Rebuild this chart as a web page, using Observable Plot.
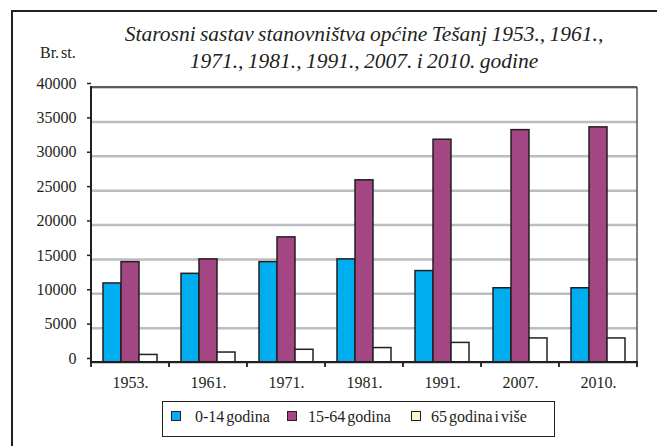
<!DOCTYPE html>
<html>
<head>
<meta charset="utf-8">
<script src="https://cdn.jsdelivr.net/npm/d3@7"></script>
<script src="https://cdn.jsdelivr.net/npm/@observablehq/plot@0.6"></script>
<style>
  html, body { margin: 0; padding: 0; background: #fff; overflow: hidden; }
  #wrap { position: relative; width: 657px; height: 446px; overflow: hidden; font-family: "Liberation Serif", "Times New Roman", serif; color: #231f20; }
  #frame { position: absolute; left: 11px; top: 10px; width: 700px; height: 500px; border-left: 2.5px solid #231f20; border-top: 2.5px solid #231f20; box-sizing: border-box; }
  #chart { position: absolute; left: 0; top: 0; }
  .title { position: absolute; left: 0; width: 728px; text-align: center; font-style: italic; font-size: 21.5px; line-height: 24px; white-space: nowrap; word-spacing: -1px; font-family: "Liberation Serif", "Times New Roman", serif; }
  #unit { position: absolute; left: 40px; top: 44px; font-size: 16px; word-spacing: -2px; }
  #legend { position: absolute; left: 162px; top: 401px; width: 393px; height: 36px; border: 1.5px solid #231f20; box-sizing: border-box; }
  .sw { position: absolute; top: 9px; width: 10px; height: 10px; border: 1.2px solid #231f20; box-sizing: border-box; }
  .lt { position: absolute; top: 6px; font-size: 16px; line-height: 18px; white-space: nowrap; word-spacing: -2px; }
</style>
</head>
<body>
<div id="wrap">
  <div id="frame"></div>
  <div id="chart"></div>
  <div class="title" style="top:22px">Starosni sastav stanovništva općine Tešanj 1953., 1961.,</div>
  <div class="title" style="top:49px">1971., 1981., 1991., 2007. i 2010. godine</div>
  <div id="unit">Br. st.</div>
  <div id="legend"></div>
</div>
<script>
const years = ["1953.", "1961.", "1971.", "1981.", "1991.", "2007.", "2010."];
const series = ["0-14 godina", "15-64 godina", "65 godina i više"];
const young = [11500, 12900, 14600, 15000, 13300, 10800, 10800];
const working = [14600, 15000, 18200, 26500, 32400, 33800, 34200];
const old = [1100, 1450, 1850, 2100, 2850, 3500, 3500];
const yTicks = [0, 5000, 10000, 15000, 20000, 25000, 30000, 35000, 40000];
const barColors = ["#00aeef", "#a44684", "#ffffff"];
const legendColors = ["#00aeef", "#a44684", "#fff6cf"];

const seriesValues = [young, working, old];
const table = years.flatMap((yr, i) => series.map((s, j) => ({year: yr, series: s, value: seriesValues[j][i]})));

const chart = Plot.plot({
  width: 657,
  height: 446,
  marginLeft: 90,
  marginRight: 19,
  marginTop: 87,
  marginBottom: 84,
  style: {fontFamily: "'Liberation Serif', 'Times New Roman', serif", fontSize: "16px", color: "#231f20", background: "transparent"},
  fx: {domain: years, paddingInner: 0, paddingOuter: 0, label: null, axis: "bottom", tickSize: 0, tickPadding: 14},
  x: {domain: series, paddingInner: 0, paddingOuter: 0.62, axis: null},
  y: {domain: [0, 40000], label: null},
  color: {domain: series, range: barColors},
  marks: [
    Plot.gridY(yTicks, {stroke: "#bcbcc2", strokeOpacity: 1, strokeWidth: 2.5}),
    Plot.barY(table, {fx: "year", x: "series", y: "value", fill: "series", stroke: "#231f20", strokeWidth: 1.5}),
    Plot.axisY(yTicks, {tickSize: 4, tickPadding: 11, fontSize: 16, dy: -4, stroke: "#231f20", strokeWidth: 1.5, fill: "#231f20", tickFormat: d3.format("d"), label: null})
  ]
});
document.getElementById("chart").appendChild(chart);

// plot-area frame, axis lines and band-edge ticks from the library's scales
const fx = chart.scale("fx");
const y = chart.scale("y");
const xs = years.map(v => fx.apply(v));
const xEnd = xs[xs.length - 1] + fx.bandwidth;
const y0 = y.apply(0), yTop = y.apply(40000);
const svg = d3.select(chart);
const g = svg.append("g").attr("stroke", "#231f20").attr("fill", "none");
g.append("line").attr("x1", xs[0]).attr("x2", xEnd).attr("y1", yTop).attr("y2", yTop).attr("stroke-width", 1.3).attr("stroke", "#3a3a3a");
g.append("line").attr("x1", xEnd).attr("x2", xEnd).attr("y1", yTop).attr("y2", y0).attr("stroke-width", 1.3).attr("stroke", "#3a3a3a");
g.append("line").attr("x1", xs[0]).attr("x2", xs[0]).attr("y1", yTop - 1).attr("y2", y0).attr("stroke-width", 2);
g.append("line").attr("x1", xs[0] - 1).attr("x2", xEnd + 1).attr("y1", y0).attr("y2", y0).attr("stroke-width", 2);
[...xs, xEnd].forEach(x => {
  g.append("line").attr("x1", x).attr("x2", x).attr("y1", y0).attr("y2", y0 + 5).attr("stroke-width", 1.8);
});

// legend
const legend = document.getElementById("legend");
const swLeft = [8, 124, 248];
const txLeft = [32, 145, 268];
series.forEach((s, i) => {
  const sw = document.createElement("div");
  sw.className = "sw";
  sw.style.left = swLeft[i] + "px";
  sw.style.background = legendColors[i];
  legend.appendChild(sw);
  const t = document.createElement("div");
  t.className = "lt";
  t.style.left = txLeft[i] + "px";
  t.textContent = s;
  legend.appendChild(t);
});
</script>
</body>
</html>
